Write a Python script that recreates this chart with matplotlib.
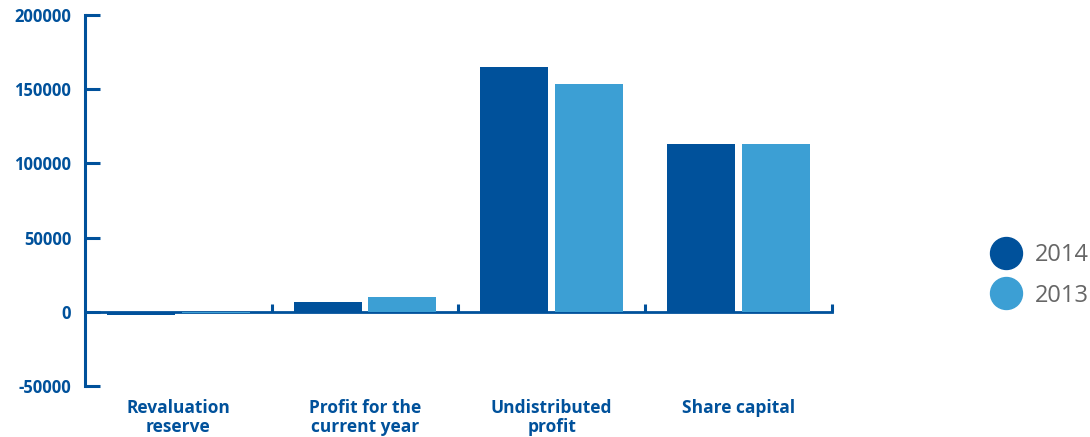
import numpy as np
import matplotlib.pyplot as plt
from matplotlib.lines import Line2D

categories = ['Revaluation\nreserve', 'Profit for the\ncurrent year', 'Undistributed\nprofit', 'Share capital']
years = ['2014', '2013']
values_2014 = [-2200, 6700, 165000, 113000]
values_2013 = [-1000, 10000, 153500, 113000]
yticks = [-50000, 0, 50000, 100000, 150000, 200000]

dark = '#00519b'
light = '#3c9fd4'

plt.rcParams['font.family'] = ['Open Sans', 'DejaVu Sans']

fig = plt.figure(figsize=(10.9, 4.37), dpi=100)
ax = fig.add_axes([0.078, 0.1167, 0.685, 0.849])

x = np.arange(len(categories))
w = 0.365
ax.bar(x - 0.2, values_2014, width=w, color=dark, zorder=2)
ax.bar(x + 0.2, values_2013, width=w, color=light, zorder=2)

ax.set_xlim(-0.5, 3.5)
ax.set_ylim(-50000, 200000)

for s in ['top', 'right']:
    ax.spines[s].set_visible(False)
ax.spines['left'].set_color(dark)
ax.spines['left'].set_linewidth(2.2)
ax.spines['bottom'].set_color(dark)
ax.spines['bottom'].set_linewidth(2.0)
ax.spines['bottom'].set_position(('data', 0))
ax.spines['bottom'].set_zorder(1)

ax.set_yticks(yticks)
ax.set_yticklabels([str(v) for v in yticks])
ax.tick_params(axis='y', direction='in', length=11, width=2.2, color=dark,
               labelcolor=dark, labelsize=12, pad=10)
for t in ax.get_yticklabels():
    t.set_fontweight('bold')

ax.set_xticks([0.5, 1.5, 2.5, 3.5])
ax.set_xticklabels([])
ax.tick_params(axis='x', direction='in', length=6, width=2.2, color=dark)

for i, c in enumerate(categories):
    ax.annotate(c, xy=(i, 0), xycoords=('data', 'axes fraction'),
                xytext=(0, -9), textcoords='offset points', ha='center', va='top',
                fontsize=12.5, fontweight='bold', color=dark, linespacing=1.1)

handles = [Line2D([], [], marker='o', ls='', markersize=23, color=dark),
           Line2D([], [], marker='o', ls='', markersize=23, color=light)]
leg = fig.legend(handles, years, loc='center left', bbox_to_anchor=(0.887, 0.37),
                 frameon=False, fontsize=17, handletextpad=0.5, labelspacing=0.7,
                 handlelength=1.5)
for t in leg.get_texts():
    t.set_color('#666666')

fig.savefig('out.png', dpi=100)
